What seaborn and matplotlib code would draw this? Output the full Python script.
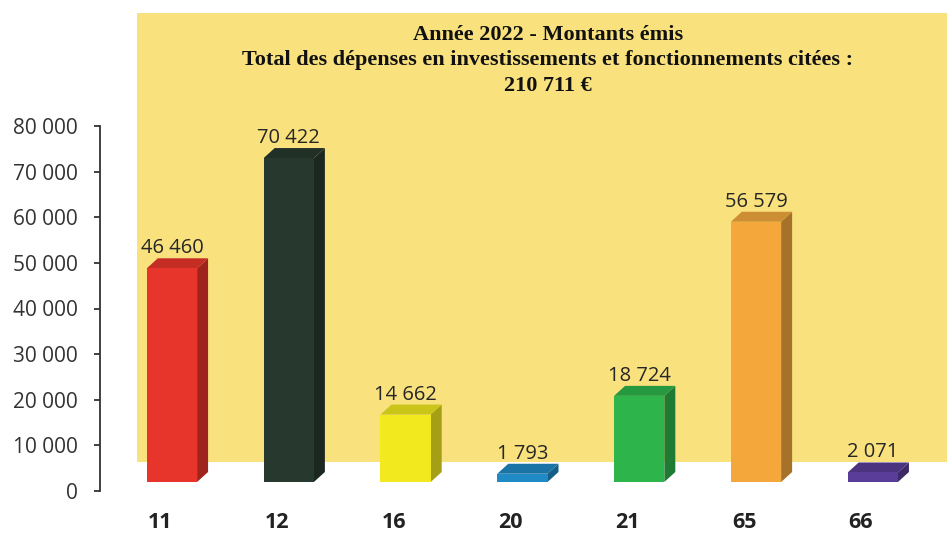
import matplotlib
matplotlib.use("Agg")
import matplotlib.pyplot as plt
import seaborn as sns
import pandas as pd
import numpy as np
from matplotlib.patches import Polygon, Rectangle
from matplotlib.colors import to_rgb

# ---- data ----
categories = ["11", "12", "16", "20", "21", "65", "66"]
values = [46460, 70422, 14662, 1793, 18724, 56579, 2071]
bar_colors = ["#E8352B", "#27392F", "#F2EA1F", "#1F8AC6", "#2DB54B", "#F4A83C", "#5A3D98"]
title_lines = ["Année 2022 - Montants émis",
               "Total des dépenses en investissements et fonctionnements citées :",
               "210 711 €"]
y_ticks = [0, 10000, 20000, 30000, 40000, 50000, 60000, 70000, 80000]


def fmt(v):
    return f"{v:,}".replace(",", " ")


sns.set_theme(style="white")
plt.rcParams['font.family'] = ['Open Sans', 'DejaVu Sans']

W, H = 947, 535
fig = plt.figure(figsize=(W / 100, H / 100), dpi=100)
fig.patch.set_facecolor("white")

# yellow background panel
fig.add_artist(Rectangle((137 / W, (H - 462) / H), (W - 137) / W, (462 - 13) / H,
                         transform=fig.transFigure, facecolor="#F9E27E",
                         edgecolor="none", zorder=-5))

# ---- bars axes ----
df = pd.DataFrame({"cat": categories, "val": values})
ax = fig.add_axes([100 / W, (H - 482) / H, (W - 100) / W, (482 - 114) / H])
ax.patch.set_alpha(0)
sns.barplot(data=df, x="cat", y="val", hue="cat", palette=bar_colors, width=0.43,
            saturation=1, legend=False, ax=ax, zorder=3)
ax.set_xlim(-0.616, 6.635)
ax.set_ylim(0, 80000)
for s in ax.spines.values():
    s.set_visible(False)
ax.set_yticks([])
ax.set_xticklabels([])
ax.tick_params(axis="x", length=0)
ax.set_xlabel("")
ax.set_ylabel("")

dx, dy = 11, 10  # 3D depth in pixels
trans = ax.transData
inv = trans.inverted()


def off(x, y):
    X, Y = trans.transform((x, y))
    return tuple(inv.transform((X + dx, Y + dy)))


def shade(c, f):
    r, g, b = to_rgb(c)
    return (r * f, g * f, b * f)


for p in list(ax.patches):
    x0, y0, w, h = p.get_x(), p.get_y(), p.get_width(), p.get_height()
    x1, y1 = x0 + w, y0 + h
    fc = p.get_facecolor()
    p.set_edgecolor("none")
    side = Polygon([(x1, y0), off(x1, y0), off(x1, y1), (x1, y1)], closed=True,
                   facecolor=shade(fc, 0.68), edgecolor="none", zorder=2.9)
    top = Polygon([(x0, y1), off(x0, y1), off(x1, y1), (x1, y1)], closed=True,
                  facecolor=shade(fc, 0.84), edgecolor="none", zorder=2.9)
    ax.add_patch(side)
    ax.add_patch(top)

# value labels
for i, v in enumerate(values):
    ax.annotate(fmt(v), xy=(i, v), xytext=(0, 10.8), textcoords="offset points",
                ha="center", va="baseline", fontsize=14.5, color="#262626", zorder=5)

# category labels
for i, c in enumerate(categories):
    ax.annotate(c, xy=(i, 0), xycoords=("data", "axes fraction"),
                xytext=(-8.6, -29.5), textcoords="offset points",
                ha="center", va="center", fontsize=15.5, fontweight="bold",
                color="#222222")

# ---- y axis ----
ay = fig.add_axes([100 / W, (H - 491) / H, 0.002, (491 - 126) / H])
ay.patch.set_alpha(0)
ay.set_ylim(0, 80000)
ay.set_yticks(y_ticks)
ay.set_yticklabels([fmt(t) for t in y_ticks])
ay.set_xticks([])
for k in ["top", "right", "bottom"]:
    ay.spines[k].set_visible(False)
ay.spines["left"].set_color("#333333")
ay.spines["left"].set_linewidth(1.3)
ay.tick_params(axis="y", left=True, direction="out", length=4, width=1.3,
               color="#333333", pad=12, labelsize=15, labelcolor="#333333")

# ---- title ----
for yy, line in zip([35, 60, 86], title_lines):
    fig.text(548 / W, 1 - yy / H, line, ha="center", va="center",
             family=["Liberation Serif", "DejaVu Serif"], fontweight="bold",
             fontsize=16, color="#111111")

fig.savefig("out.png", dpi=100)
